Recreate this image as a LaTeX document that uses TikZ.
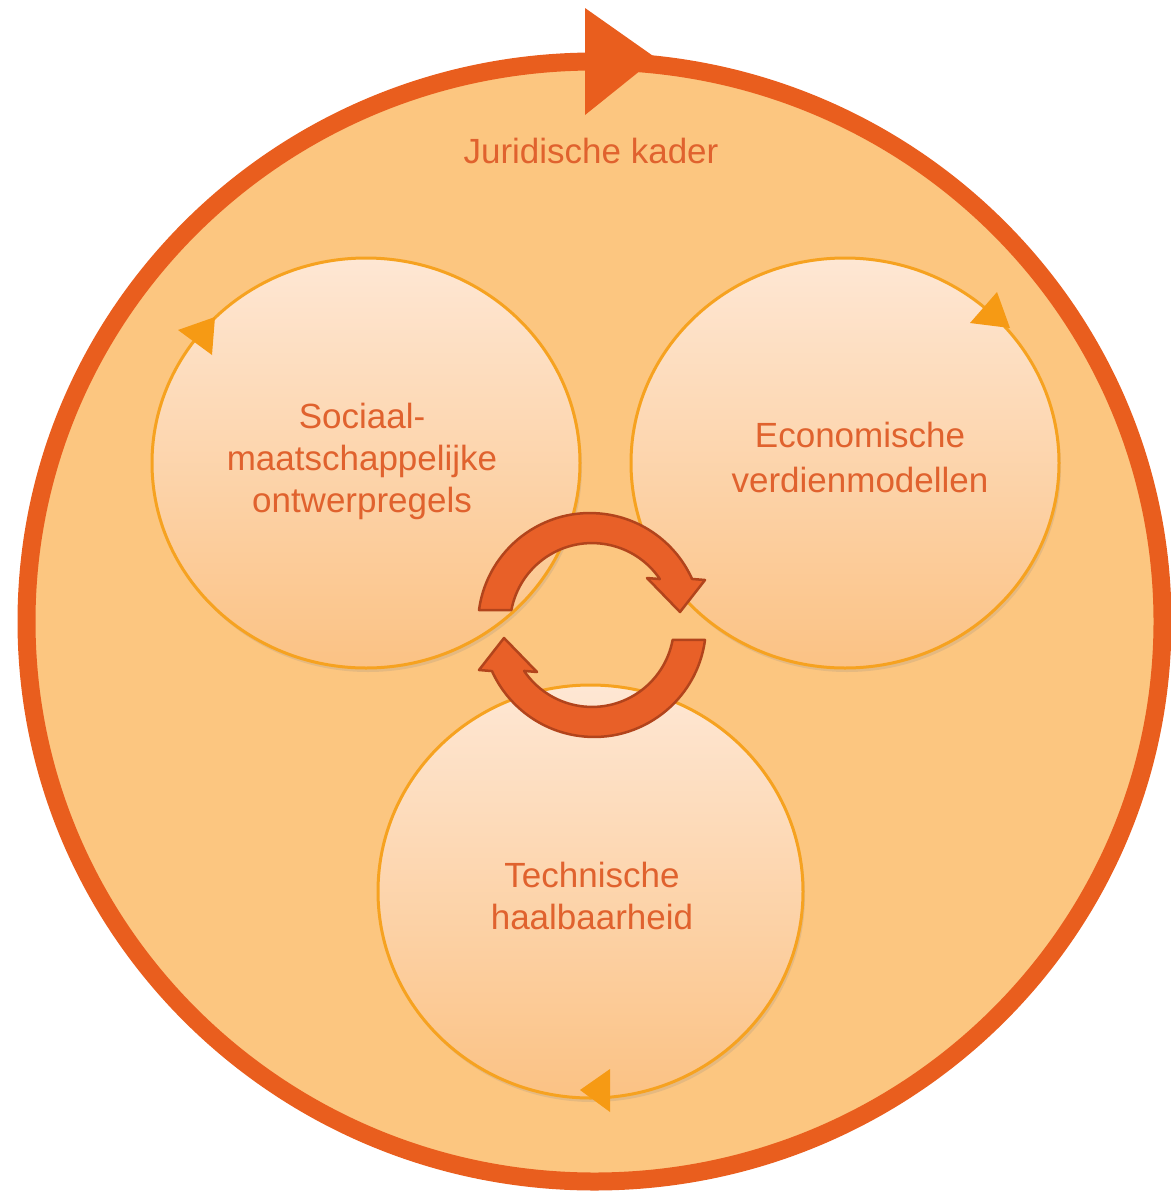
\documentclass[tikz,border=0pt]{standalone}
\usepackage{fontspec}
\setmainfont{Liberation Sans}
\usetikzlibrary{shadows,shapes.geometric}
\definecolor{ring}{RGB}{233,94,30}
\definecolor{bgfill}{RGB}{252,198,128}
\definecolor{circtop}{RGB}{254,231,212}
\definecolor{circmid}{RGB}{253,218,184}
\definecolor{circbot}{RGB}{251,194,132}
\definecolor{circline}{RGB}{246,162,32}
\definecolor{tipcol}{RGB}{246,154,20}
\definecolor{txt}{RGB}{224,98,46}
\definecolor{cyc}{RGB}{232,96,40}
\definecolor{cycline}{RGB}{178,68,28}
\begin{document}
\begin{tikzpicture}[x=1pt,y=-1pt,
  lbl/.style={text=txt, font=\fontsize{35}{43}\selectfont, anchor=base, inner sep=0pt},
  subcircle/.style={ellipse, minimum width=428pt, minimum height=410pt, inner sep=0pt,
    top color=circtop, middle color=circmid, bottom color=circbot,
    draw=circline, line width=3pt,
    drop shadow={opacity=0.18, shadow xshift=2pt, shadow yshift=-4pt}},
  smalltip/.style={fill=tipcol, draw=none},
  cyclearrow/.style={fill=cyc, draw=cycline, line width=2.5pt, line join=round}]
\useasboundingbox (0,0) rectangle (1170,1194);
% outer frame
\coordinate (O) at (594.5,621.5);
\draw[ring, line width=18pt, fill=bgfill] (O) ellipse[x radius=568, y radius=560];
\fill[ring] (585,8) -- (585,115) -- (656,58) -- cycle;
\node[lbl] (jur) at (591,163) {Juridische kader};
% three circles
\node[subcircle] (soc) at (366,463) {};
\node[subcircle] (eco) at (845,463) {};
\node[subcircle, minimum width=425pt, minimum height=413pt] (tech) at (590.5,891.5) {};
% small arrow tips
\path[smalltip] (178,330) -- (215,317) -- (212,355) -- cycle;
\path[smalltip] (997,292) -- (970,323) -- (1010,328) -- cycle;
\path[smalltip] (610,1069) -- (580,1090) -- (610,1112) -- cycle;
% central cycle arrows
\coordinate (C) at (592,625);
\path[cyclearrow] (478.99,610.03) arc[start angle=187.7, end angle=335.7, radius=112]
  -- (705,580) -- (680,612) -- (647,578) -- (659.9,579.1)
  arc[start angle=325.9, end angle=190.5, radius=82] -- cycle;
\path[cyclearrow, rotate around={180:(C)}] (478.99,610.03) arc[start angle=187.7, end angle=335.7, radius=112]
  -- (705,580) -- (680,612) -- (647,578) -- (659.9,579.1)
  arc[start angle=325.9, end angle=190.5, radius=82] -- cycle;
% labels
\node[lbl] (s1) at (362,428) {Sociaal-};
\node[lbl] (s2) at (362,470) {maatschappelijke};
\node[lbl] (s3) at (362,512) {ontwerpregels};
\node[lbl] (e1) at (860,447) {Economische};
\node[lbl] (e2) at (860,492) {verdienmodellen};
\node[lbl] (t1) at (592,887) {Technische};
\node[lbl] (t2) at (592,929) {haalbaarheid};
\end{tikzpicture}
\end{document}
